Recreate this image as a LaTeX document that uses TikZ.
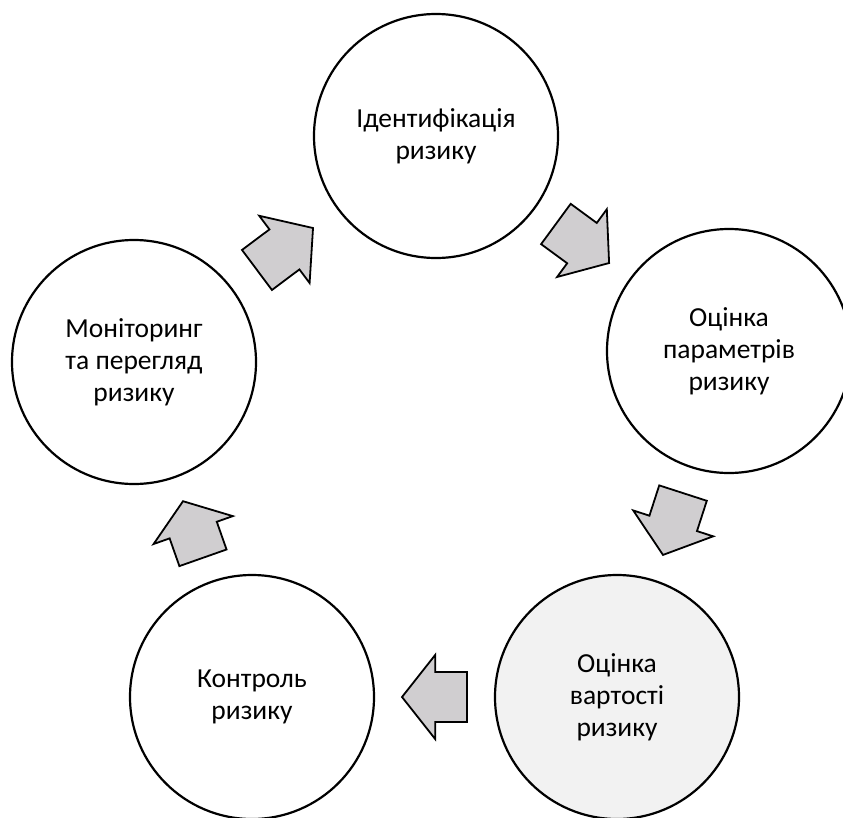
\documentclass[tikz,border=0pt]{standalone}
\usepackage{fontspec}
\setmainfont{Carlito}
\usetikzlibrary{calc}

\definecolor{arrowfill}{RGB}{208,206,208}
\definecolor{stagefill}{RGB}{242,242,242}

\tikzset{
  stage/.style={circle, draw=black, line width=2.2pt, fill=white,
    minimum size=244pt, inner sep=0pt, align=center,
    font=\fontsize{27.5}{32}\selectfont},
  % block arrow pointing along local +x, centred on the origin; #1 = total length
  blockarrow/.pic={
    \pgfmathsetmacro\half{#1/2}
    \pgfmathsetmacro\neck{#1/2-#1*0.51}
    \draw[line width=1.8pt, fill=arrowfill, line join=miter]
      (\half,0) -- (\neck,42) -- (\neck,25) -- (-\half,25)
      -- (-\half,-25) -- (\neck,-25) -- (\neck,-42) -- cycle;
  }
}

% block arrow placed halfway between two nodes, aimed from the first to the second
\newcommand\linkarrow[3]{%
  \path let \p1=($(#2.center)-(#1.center)$), \n1={atan2(\y1,\x1)} in
    pic[rotate=\n1] at ($(#1.center)!0.5!(#2.center)$) {blockarrow=#3};
}

\begin{document}
\begin{tikzpicture}[x=1pt, y=-1pt]
  \useasboundingbox (0,0) rectangle (843,817);

  \node[stage] (ident) at (436,136) {Ідентифікація\\ризику};
  \node[stage] (param) at (729,351) {Оцінка\\параметрів\\ризику};
  \node[stage, fill=stagefill] (cost) at (617,697) {Оцінка\\вартості\\ризику};
  \node[stage] (ctrl) at (252,697) {Контроль\\ризику};
  \node[stage] (monit) at (134,362) {Моніторинг\\та перегляд\\ризику};

  \linkarrow{ident}{param}{66}
  \linkarrow{param}{cost}{65}
  \linkarrow{cost}{ctrl}{65}
  \linkarrow{ctrl}{monit}{60}
  \linkarrow{monit}{ident}{70}
\end{tikzpicture}
\end{document}
